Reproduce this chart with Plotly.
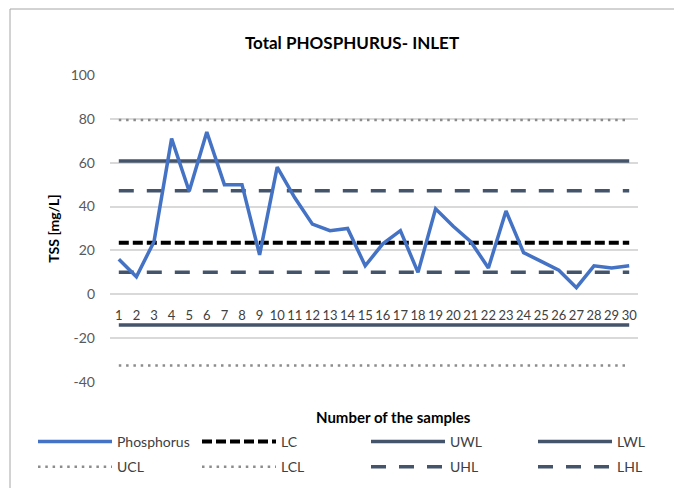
import plotly.graph_objects as go

# Dados
amostras = list(range(1, 31))
fosforo = [16, 8, 24, 71, 47, 74, 50, 50, 18, 58, 44, 32, 29, 30, 13,
           23, 29, 10, 39, 31, 24, 12, 38, 19, 15, 11, 3, 13, 12, 13]

lc = 23.5
ucl = 79.5
lcl = -32.5
uwl = 60.8
lwl = -14
uhl = 47.2
lhl = 10

y_ticks = [-40, -20, 0, 20, 40, 60, 80, 100]
y_labels = ['-40', '-20', '0', '20', '40', '60', '80', '100']

x_limites = [amostras[0], amostras[-1]]

cinza_escuro = '#44546A'
fonte = 'Lato, Open Sans, sans-serif'

# a página tem 8px de margem no body
LARG, ALT = 674, 480

fig = go.Figure()

# Linhas de controle
linhas = [
    ('LC', lc, 'black', 4, '10px,4px', 'legend2', 1),
    ('UWL', uwl, cinza_escuro, 3.5, 'solid', 'legend3', 1),
    ('LWL', lwl, cinza_escuro, 3.5, 'solid', 'legend4', 1),
    ('UCL', ucl, '#8C8C8C', 2.5, '2.5px,4.8px', 'legend', 2),
    ('LCL', lcl, '#8C8C8C', 2.5, '2.5px,4.8px', 'legend2', 2),
    ('UHL', uhl, cinza_escuro, 3.5, '15px,13px', 'legend3', 2),
    ('LHL', lhl, cinza_escuro, 3.5, '15px,13px', 'legend4', 2),
]
for nome, valor, cor, largura, traco, legenda, rank in linhas:
    fig.add_trace(go.Scatter(
        x=x_limites,
        y=[valor, valor],
        mode='lines',
        name=nome,
        line=dict(color=cor, width=largura, dash=traco),
        legend=legenda,
        legendgroup=nome,
        legendrank=rank,
        hoverinfo='skip'
    ))

# Fósforo (desenhado por cima)
fig.add_trace(go.Scatter(
    x=amostras,
    y=fosforo,
    mode='lines',
    name='Phosphorus',
    line=dict(color='#4472C4', width=3.5),
    legend='legend',
    legendgroup='Phosphorus',
    legendrank=1
))

legenda_base = dict(
    orientation='v',
    yanchor='top',
    y=-0.143,
    itemwidth=74,
    font=dict(family=fonte, size=14, color='#404040'),
    bgcolor='rgba(0,0,0,0)',
    tracegroupgap=4,
    traceorder='grouped'
)

fig.update_layout(
    width=LARG,
    height=ALT,
    margin=dict(l=102, r=44, t=67, b=106, autoexpand=False),
    plot_bgcolor='white',
    paper_bgcolor='white',
    font=dict(family=fonte, size=14, color='#595959'),
    title=dict(
        text='<b>Total PHOSPHURUS- INLET</b>',
        xref='container', yref='container',
        x=(352 - 8) / LARG, y=1 - (43 - 8) / ALT,
        xanchor='center', yanchor='middle',
        font=dict(family=fonte, size=17, color='black')
    ),
    xaxis=dict(
        range=[0.5, 30.5],
        tickvals=amostras,
        ticktext=[str(a) for a in amostras],
        tickangle=0,
        showgrid=False,
        zeroline=False,
        showline=False,
        ticks='',
        anchor='free',
        position=40 / 140,
        ticklabelstandoff=12,
        tickfont=dict(family=fonte, size=13, color='#404040')
    ),
    yaxis=dict(
        range=[-40, 100],
        tickvals=y_ticks,
        ticktext=y_labels,
        showgrid=True,
        gridcolor='#D9D9D9',
        gridwidth=1.5,
        zeroline=False,
        showline=False,
        ticks='',
        ticklabelstandoff=14,
        title=dict(text='<b>TSS [mg/L]</b>', standoff=7,
                   font=dict(family=fonte, size=14, color='black'))
    ),
    showlegend=True,
    legend=dict(legenda_base, x=(33 - 110) / 528),
    legend2=dict(legenda_base, x=(197 - 110) / 528),
    legend3=dict(legenda_base, x=(366 - 110) / 528),
    legend4=dict(legenda_base, x=(533 - 110) / 528),
    annotations=[dict(
        text='<b>Number of the samples</b>',
        xref='paper', yref='paper',
        x=(393 - 110) / 528, y=(382 - 417) / 307,
        xanchor='center', yanchor='middle',
        showarrow=False,
        font=dict(family=fonte, size=15, color='black')
    )],
    shapes=[dict(
        type='rect', xref='paper', yref='paper',
        x0=(10 - 110) / 528, x1=(700 - 110) / 528,
        y0=(382 - 500) / 307, y1=(382 - 9) / 307,
        line=dict(color='#A6A6A6', width=1),
        fillcolor='rgba(0,0,0,0)', layer='below'
    )]
)

fig.write_html("out.html")
